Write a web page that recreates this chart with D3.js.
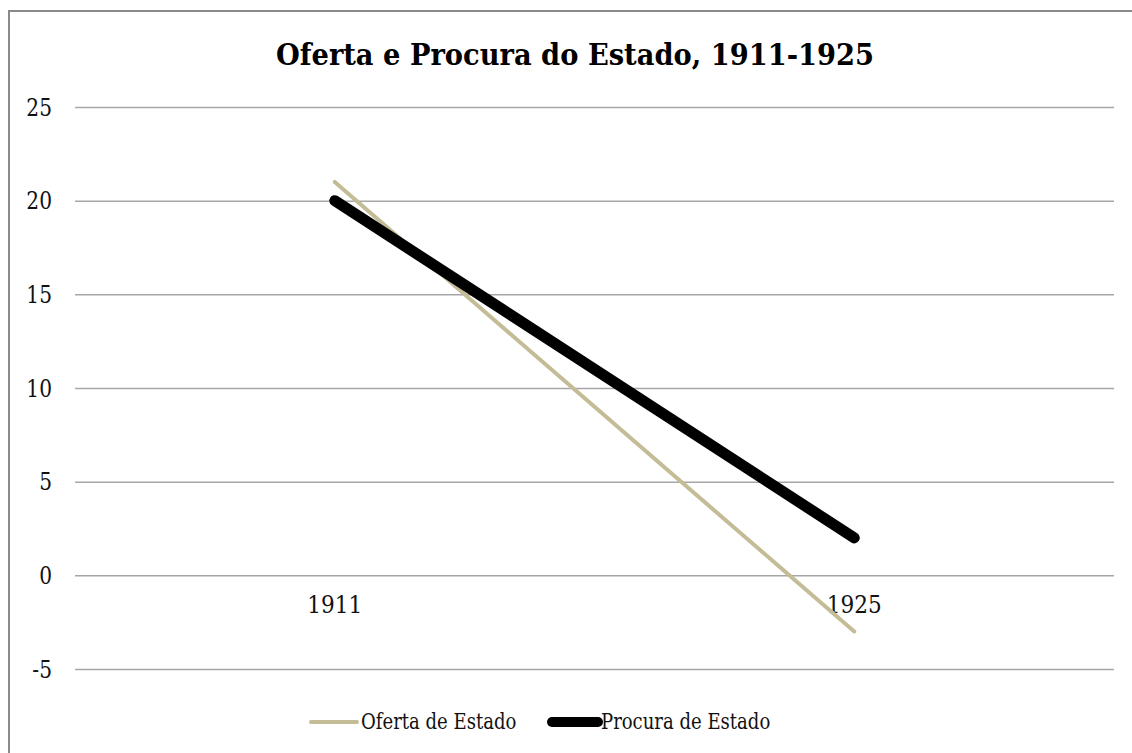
<!DOCTYPE html>
<html>
<head>
<meta charset="utf-8">
<script src="https://cdn.jsdelivr.net/npm/d3@7.9.0/dist/d3.min.js"></script>
<style>
  body { margin: 0; background: #fff; }
</style>
</head>
<body>
<svg id="chart" width="1132" height="753"></svg>
<script>
const years = ['1911', '1925'];
const oferta = [21, -3];
const procura = [20, 2];
const yTicks = [-5, 0, 5, 10, 15, 20, 25];
const seriesNames = ['Oferta de Estado', 'Procura de Estado'];

const width = 1132, height = 753;
const margin = { top: 107, right: 18, bottom: 84, left: 75 };
const FONT = "'DejaVu Serif', serif";

const svg = d3.select('#chart')
  .style('font-family', FONT);

// squeeze the (wide) serif glyphs a bit so they take up Times-like widths
function condense(sel, k) {
  sel.each(function () {
    const w = this.getComputedTextLength();
    d3.select(this).attr('textLength', w * k).attr('lengthAdjust', 'spacingAndGlyphs');
  });
}

// outer frame (top and left only visible in the crop)
svg.append('rect')
  .attr('x', 9).attr('y', 11)
  .attr('width', width + 10).attr('height', height + 10)
  .attr('fill', '#fff')
  .attr('stroke', '#8a8a8a')
  .attr('stroke-width', 2);

const xScale = d3.scaleBand()
  .domain(years)
  .range([margin.left, width - margin.right]);

const yScale = d3.scaleLinear()
  .domain([-5, 25])
  .range([height - margin.bottom, margin.top]);

// gridlines
svg.append('g')
  .attr('transform', `translate(${margin.left},0)`)
  .call(d3.axisLeft(yScale).tickValues(yTicks).tickFormat('')
    .tickSize(-(width - margin.left - margin.right)))
  .call(g => g.select('.domain').remove())
  .call(g => g.selectAll('line').attr('stroke', '#a6a6a6').attr('stroke-width', 1.5));

// y labels
svg.append('g')
  .selectAll('text')
  .data(yTicks)
  .join('text')
  .attr('x', 52)
  .attr('y', d => yScale(d))
  .attr('dy', '0.36em')
  .attr('text-anchor', 'end')
  .style('font-family', FONT)
  .attr('font-size', 24)
  .attr('fill', '#111')
  .text(d => d)
  .call(condense, 0.84);

// category labels under the zero line
svg.append('g')
  .selectAll('text')
  .data(years)
  .join('text')
  .attr('x', d => xScale(d) + xScale.bandwidth() / 2)
  .attr('y', yScale(0) + 38)
  .attr('text-anchor', 'middle')
  .style('font-family', FONT)
  .attr('font-size', 24)
  .attr('fill', '#111')
  .text(d => d)
  .call(condense, 0.9);

const line = d3.line()
  .x((d, i) => xScale(years[i]) + xScale.bandwidth() / 2)
  .y(d => yScale(d));

svg.append('path')
  .datum(oferta)
  .attr('d', line)
  .attr('fill', 'none')
  .attr('stroke', '#c4bc97')
  .attr('stroke-width', 4)
  .attr('stroke-linecap', 'round');

svg.append('path')
  .datum(procura)
  .attr('d', line)
  .attr('fill', 'none')
  .attr('stroke', '#000')
  .attr('stroke-width', 11)
  .attr('stroke-linecap', 'round');

// title
svg.append('text')
  .attr('x', 575)
  .attr('y', 65)
  .attr('text-anchor', 'middle')
  .style('font-family', FONT)
  .attr('font-size', 30)
  .attr('font-weight', 'bold')
  .attr('fill', '#000')
  .text('Oferta e Procura do Estado, 1911-1925')
  .call(condense, 0.91);

// legend
const legend = [
  { name: seriesNames[0], color: '#c4bc97', w: 4, x1: 311, x2: 357, tx: 361 },
  { name: seriesNames[1], color: '#000', w: 10, x1: 552, x2: 598, tx: 601 }
];
const lg = svg.append('g');
legend.forEach(l => {
  lg.append('line')
    .attr('x1', l.x1).attr('x2', l.x2)
    .attr('y1', 722).attr('y2', 722)
    .attr('stroke', l.color)
    .attr('stroke-width', l.w)
    .attr('stroke-linecap', 'round');
  lg.append('text')
    .attr('x', l.tx)
    .attr('y', 729)
    .style('font-family', FONT)
    .attr('font-size', 22)
    .attr('fill', '#111')
    .text(l.name)
    .call(condense, 0.82);
});
</script>
</body>
</html>
